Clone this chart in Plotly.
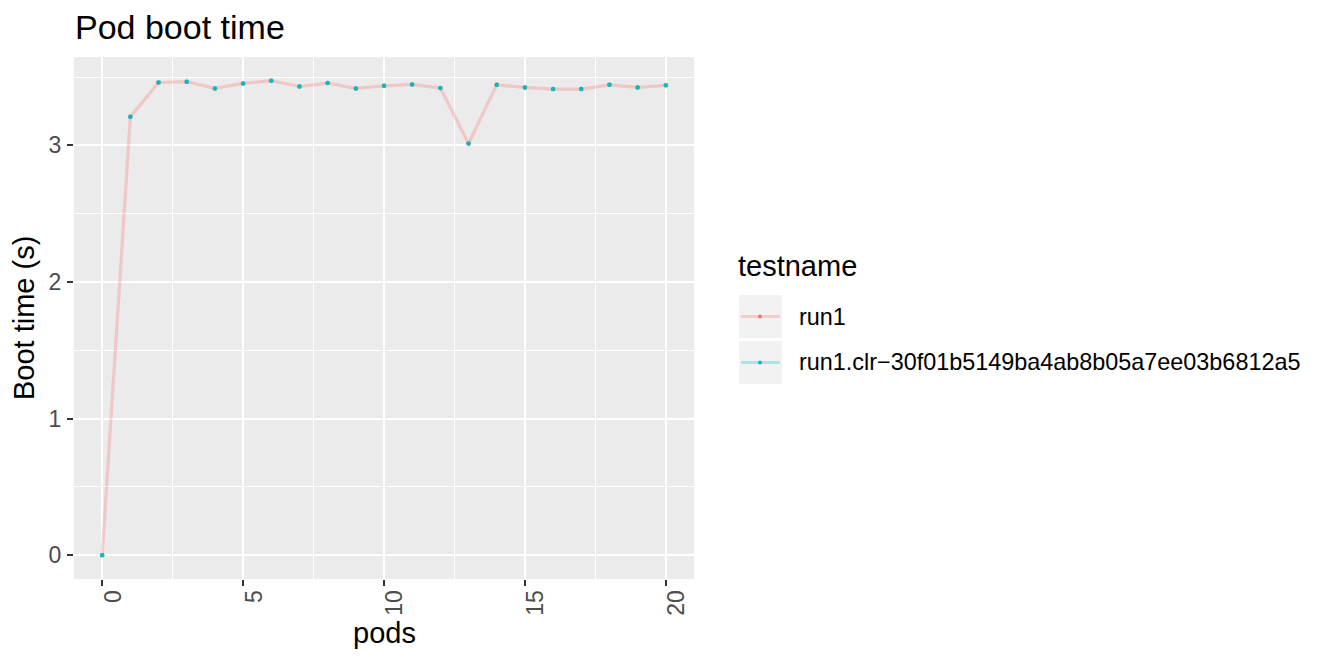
import plotly.graph_objects as go

# ---- data ----
pods = list(range(0, 21))
boot_run1 = [0.0, 3.21, 3.46, 3.466, 3.417, 3.453, 3.473, 3.431, 3.456, 3.417, 3.436,
             3.446, 3.419, 3.013, 3.443, 3.424, 3.412, 3.412, 3.443, 3.424, 3.439]
boot_clr = list(boot_run1)
series_names = ["run1", "run1.clr\u221230f01b5149ba4ab8b05a7ee03b6812a5"]
x_ticks = [0, 5, 10, 15, 20]
y_ticks = [0, 1, 2, 3]

RED = "#F8766D"
TEAL = "#00BFC4"

W, H = 1328, 660
OFF = 8  # page body margin
PL, PR, PT, PB = 74, 694, 57, 579  # panel box in page pixels

fig = go.Figure()
fig.add_trace(go.Scatter(
    x=pods, y=boot_run1, mode="lines+markers", name=series_names[0],
    line=dict(color="rgba(248,118,109,0.3)", width=3.2),
    marker=dict(color=RED, size=4.5), showlegend=False, hoverinfo="x+y"))
fig.add_trace(go.Scatter(
    x=pods, y=boot_clr, mode="markers", name=series_names[1],
    marker=dict(color=TEAL, size=4.5), showlegend=False, hoverinfo="x+y"))

ymax = max(boot_run1 + boot_clr)
ymin = min(boot_run1 + boot_clr)
yexp = (ymax - ymin) * 0.05
xexp = (max(pods) - min(pods)) * 0.05

FONT = "Liberation Sans, Arial, sans-serif"
axis_common = dict(
    showgrid=True, gridcolor="white", gridwidth=2.2, zeroline=False,
    ticks="outside", ticklen=6, tickwidth=2, tickcolor="#333333",
    tickfont=dict(family=FONT, size=23, color="#4D4D4D"),
    showline=False,
)

fig.update_layout(
    width=W, height=H,
    margin=dict(l=PL - OFF, r=W - (PR - OFF), t=PT - OFF, b=H - (PB - OFF), autoexpand=False),
    plot_bgcolor="#EBEBEB", paper_bgcolor="white",
    font=dict(family=FONT, color="black"),
    xaxis=dict(range=[min(pods) - xexp, max(pods) + xexp], tickvals=x_ticks,
               ticktext=[str(v) for v in x_ticks], tickangle=-90,
               minor=dict(showgrid=True, gridcolor="white", gridwidth=1.1, ticks="",
                          tickvals=[2.5, 7.5, 12.5, 17.5]),
               **axis_common),
    yaxis=dict(range=[ymin - yexp, ymax + yexp], tickvals=y_ticks,
               ticktext=[str(v) for v in y_ticks],
               minor=dict(showgrid=True, gridcolor="white", gridwidth=1.1, ticks="",
                          tickvals=[0.5, 1.5, 2.5, 3.5]),
               **axis_common),
)

def px_x(px):
    return (px - PL) / (PR - PL)

def px_y(py):
    return (PB - py) / (PB - PT)

ann = []
ann.append(dict(text="Pod boot time", x=px_x(73), y=px_y(27), xref="paper", yref="paper",
                xanchor="left", yanchor="middle", showarrow=False,
                font=dict(size=34, color="black")))
ann.append(dict(text="pods", x=px_x(384), y=px_y(633), xref="paper", yref="paper",
                xanchor="center", yanchor="middle", showarrow=False,
                font=dict(size=29, color="black")))
ann.append(dict(text="Boot time (s)", x=px_x(24), y=px_y(318), xref="paper", yref="paper",
                xanchor="center", yanchor="middle", showarrow=False, textangle=-90,
                font=dict(size=29, color="black")))
ann.append(dict(text="testname", x=px_x(736), y=px_y(266), xref="paper", yref="paper",
                xanchor="left", yanchor="middle", showarrow=False,
                font=dict(size=29, color="black")))

shapes = []
key_tops = [295, 341]
key_colors = [("rgba(248,118,109,0.3)", RED), ("rgba(0,191,196,0.3)", TEAL)]
for i, name in enumerate(series_names):
    top = key_tops[i]
    bot = top + 43
    cy = (top + bot) / 2
    shapes.append(dict(type="rect", xref="paper", yref="paper",
                       x0=px_x(739), x1=px_x(782), y0=px_y(bot), y1=px_y(top),
                       fillcolor="#F2F2F2", line=dict(width=0), layer="below"))
    shapes.append(dict(type="line", xref="paper", yref="paper",
                       x0=px_x(741), x1=px_x(780), y0=px_y(cy), y1=px_y(cy),
                       line=dict(color=key_colors[i][0], width=3.2)))
    shapes.append(dict(type="circle", xref="paper", yref="paper",
                       x0=px_x(758), x1=px_x(762), y0=px_y(cy + 2), y1=px_y(cy - 2),
                       fillcolor=key_colors[i][1], line=dict(width=0)))
    ann.append(dict(text=name, x=px_x(797), y=px_y(cy), xref="paper", yref="paper",
                    xanchor="left", yanchor="middle", showarrow=False,
                    font=dict(size=23.4, color="black")))

fig.update_layout(annotations=ann, shapes=shapes)
fig.update_xaxes(ticklabelshift=11, ticklabelstandoff=-5)
fig.update_yaxes(ticklabelstandoff=1)

fig.write_html("out.html")
